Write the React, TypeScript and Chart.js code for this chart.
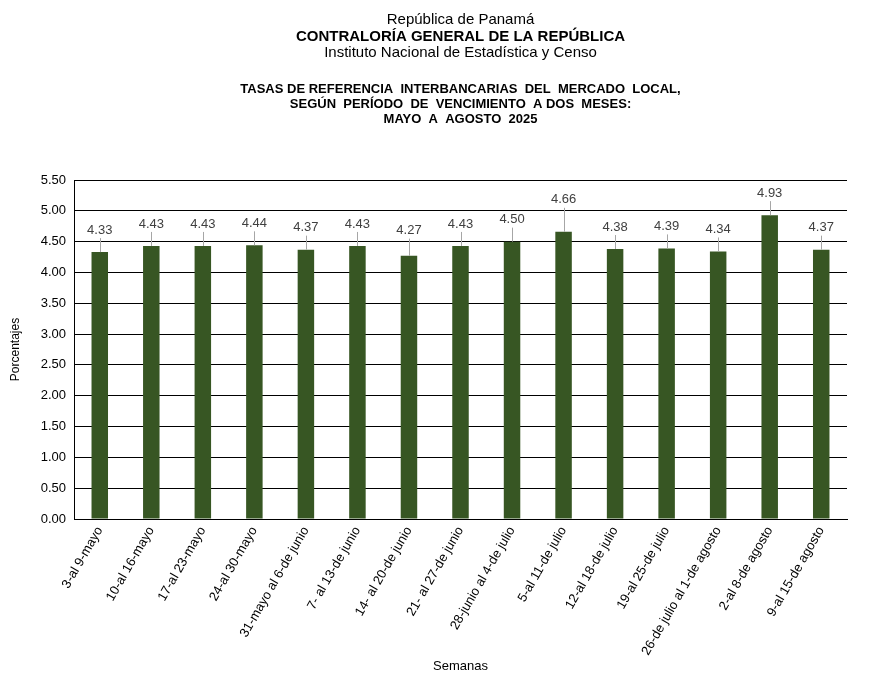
import React, { useEffect, useRef } from "react";
import { Chart, registerables } from "chart.js";

Chart.register(...registerables);

const categories: string[] = [
  "3-al 9-mayo",
  "10-al 16-mayo",
  "17-al 23-mayo",
  "24-al 30-mayo",
  "31-mayo al 6-de junio",
  "7- al 13-de junio",
  "14- al 20-de junio",
  "21- al 27-de junio",
  "28-junio al 4-de julio",
  "5-al 11-de julio",
  "12-al 18-de julio",
  "19-al 25-de julio",
  "26-de julio al 1-de agosto",
  "2-al 8-de agosto",
  "9-al 15-de agosto",
];

const tasas: number[] = [4.33, 4.43, 4.43, 4.44, 4.37, 4.43, 4.27, 4.43, 4.5, 4.66, 4.38, 4.39, 4.34, 4.93, 4.37];

const titleLines: { text: string; bold: boolean; size: number; y: number }[] = [
  { text: "República de Panamá", bold: false, size: 15, y: 12 },
  { text: "CONTRALORÍA GENERAL DE LA REPÚBLICA", bold: true, size: 15, y: 29 },
  { text: "Instituto Nacional de Estadística y Censo", bold: false, size: 15, y: 45 },
  { text: "TASAS DE REFERENCIA  INTERBANCARIAS  DEL  MERCADO  LOCAL,", bold: true, size: 13, y: 81 },
  { text: "SEGÚN  PERÍODO  DE  VENCIMIENTO  A DOS  MESES:", bold: true, size: 13, y: 96 },
  { text: "MAYO  A  AGOSTO  2025", bold: true, size: 13, y: 111 },
];

const FONT = "'Liberation Sans', Arial, Helvetica, sans-serif";

const titlePlugin = {
  id: "customTitles",
  afterDraw(chart: any) {
    const { ctx, chartArea } = chart;
    const cx = (chartArea.left + chartArea.right) / 2;
    ctx.save();
    ctx.fillStyle = "#000";
    ctx.textAlign = "center";
    ctx.textBaseline = "middle";
    for (const l of titleLines) {
      ctx.font = `${l.bold ? "bold " : ""}${l.size}px ${FONT}`;
      ctx.fillText(l.text, cx, l.y);
    }
    ctx.restore();
  },
};

const labelPlugin = {
  id: "barLabels",
  afterDatasetsDraw(chart: any) {
    const { ctx } = chart;
    const meta = chart.getDatasetMeta(0);
    const data = chart.data.datasets[0].data as number[];
    const yScale = chart.scales.y;
    const gridYs: number[] = yScale.ticks.map((t: any) => yScale.getPixelForValue(t.value));
    ctx.save();
    ctx.font = `13px ${FONT}`;
    ctx.textAlign = "center";
    ctx.textBaseline = "middle";
    meta.data.forEach((el: any, i: number) => {
      const x = el.x;
      const y = el.y;
      let ly = y - 22;
      for (const g of gridYs) {
        if (Math.abs(ly - g) < 8) ly = g - 11;
      }
      ctx.strokeStyle = "#a6a6a6";
      ctx.lineWidth = 1;
      ctx.beginPath();
      ctx.moveTo(Math.round(x) + 0.5, y);
      ctx.lineTo(Math.round(x) + 0.5, ly + 8);
      ctx.stroke();
      ctx.fillStyle = "#404040";
      ctx.fillText(data[i].toFixed(2), x, ly);
    });
    ctx.restore();
  },
};

export default function App() {
  const ref = useRef<HTMLCanvasElement>(null);
  useEffect(() => {
    document.documentElement.style.overflow = "hidden";
    const canvas = ref.current!;
    Chart.defaults.font.family = FONT;
    Chart.defaults.color = "#000";
    const chart = new Chart(canvas, {
      type: "bar",
      data: {
        labels: categories,
        datasets: [
          {
            data: tasas,
            backgroundColor: "#375623",
            borderWidth: 0,
            barPercentage: 0.32,
            categoryPercentage: 1,
          },
        ],
      },
      options: {
        animation: false,
        responsive: false,
        layout: { padding: { top: 172, right: 30, left: 0, bottom: 0 } },
        plugins: {
          legend: { display: false },
          tooltip: { enabled: false },
          title: { display: false },
        },
        scales: {
          x: {
            grid: { display: false, drawTicks: false },
            border: { display: true, color: "#000", width: 1 },
            ticks: {
              minRotation: 60,
              maxRotation: 60,
              autoSkip: false,
              padding: 5,
              font: { size: 13 },
              color: "#000",
            },
            title: {
              display: true,
              text: "Semanas",
              font: { size: 13 },
              color: "#000",
              padding: { top: 0, bottom: 2 },
            },
            afterFit: (scale: any) => {
              scale.height = 157;
            },
          },
          y: {
            min: 0,
            max: 5.5,
            grid: { color: "#000", lineWidth: 1, drawTicks: false },
            border: { display: true, color: "#000", width: 1 },
            ticks: {
              stepSize: 0.5,
              padding: 8,
              font: { size: 13 },
              color: "#000",
              callback: (v: any) => Number(v).toFixed(2),
            },
            title: {
              display: true,
              text: "Porcentajes",
              font: { size: 12 },
              color: "#000",
              padding: { top: 0, bottom: 0 },
            },
            afterFit: (scale: any) => {
              scale.width = 66;
            },
          },
        },
      },
      plugins: [titlePlugin, labelPlugin],
    });
    return () => chart.destroy();
  }, []);
  return (
    <div style={{ width: 869, height: 668 }}>
      <canvas ref={ref} width={869} height={668} style={{ width: 869, height: 668, display: "block" }} />
    </div>
  );
}
